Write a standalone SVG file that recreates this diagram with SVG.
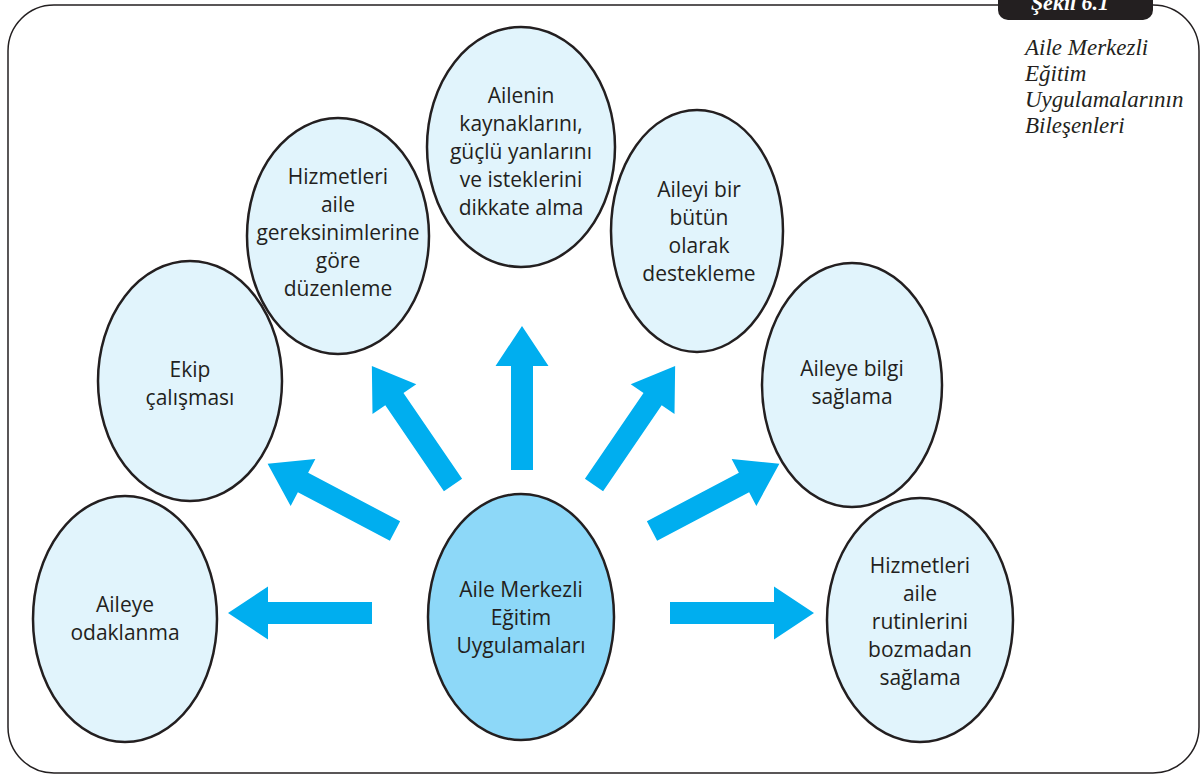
<svg xmlns="http://www.w3.org/2000/svg" width="1203" height="775" viewBox="0 0 1203 775">
  <style>
    .frame { fill: #ffffff; stroke: #231F20; stroke-width: 1.5; }
    .node ellipse { fill: #E1F4FC; stroke: #231F20; stroke-width: 2.5; }
    #center ellipse { fill: #8DD8F8; }
    .node text { font-family: "Open Sans", "Noto Sans", sans-serif; font-size: 21px; fill: #231F20; text-anchor: middle; }
    .arrow { fill: #00AEEF; }
    .caption { font-family: "Liberation Serif", serif; font-style: italic; font-size: 23px; fill: #231F20; }
    .tab-label { font-family: "Liberation Serif", serif; font-style: italic; font-weight: bold; font-size: 22px; fill: #ffffff; text-anchor: middle; }
  </style>
  <defs>
    <!-- block arrow pointing along +x, tail at origin, length 144 -->
    <polygon id="arrow-shape" points="0,-11 104,-11 104,-26.5 144,0 104,26.5 104,11 0,11"/>
  </defs>

  <rect width="1203" height="775" fill="#ffffff"/>

  <!-- page frame with the figure tab -->
  <rect class="frame" x="8" y="5" width="1191" height="768" rx="46" ry="46"/>
  <path d="M998,0 H1153 V10 A10,10 0 0 1 1143,20 H1008 A10,10 0 0 1 998,10 Z" fill="#231F20"/>
  <text class="tab-label" x="1070" y="10">Şekil 6.1</text>

  <g id="caption">
    <text class="caption" x="1025" y="55">Aile Merkezli</text>
    <text class="caption" x="1025" y="81">Eğitim</text>
    <text class="caption" x="1025" y="107">Uygulamalarının</text>
    <text class="caption" x="1025" y="133">Bileşenleri</text>
  </g>

  <g id="connectors">
    <use href="#arrow-shape" class="arrow" transform="translate(372,613) rotate(180)"/>
    <use href="#arrow-shape" class="arrow" transform="translate(395,531) rotate(-152.2)"/>
    <use href="#arrow-shape" class="arrow" transform="translate(453,485) rotate(-124.3)"/>
    <use href="#arrow-shape" class="arrow" transform="translate(522,470) rotate(-90)"/>
    <use href="#arrow-shape" class="arrow" transform="translate(594,485) rotate(-55.7)"/>
    <use href="#arrow-shape" class="arrow" transform="translate(652,531) rotate(-27.8)"/>
    <use href="#arrow-shape" class="arrow" transform="translate(670,613)"/>
  </g>

  <g id="aileye-odaklanma" class="node">
    <ellipse cx="125" cy="619" rx="92" ry="123"/>
    <text x="125" y="612">Aileye</text>
    <text x="125" y="640">odaklanma</text>
  </g>

  <g id="ekip-calismasi" class="node">
    <ellipse cx="190" cy="381" rx="92" ry="120"/>
    <text x="190" y="377">Ekip</text>
    <text x="190" y="405">çalışması</text>
  </g>

  <g id="gereksinimlere-gore" class="node">
    <ellipse cx="338" cy="236" rx="91" ry="118"/>
    <text x="338" y="184">Hizmetleri</text>
    <text x="338" y="212">aile</text>
    <text x="338" y="240">gereksinimlerine</text>
    <text x="338" y="268">göre</text>
    <text x="338" y="296">düzenleme</text>
  </g>

  <g id="kaynaklar" class="node">
    <ellipse cx="521" cy="147" rx="94" ry="120"/>
    <text x="521" y="103">Ailenin</text>
    <text x="521" y="131">kaynaklarını,</text>
    <text x="521" y="159">güçlü yanlarını</text>
    <text x="521" y="187">ve isteklerini</text>
    <text x="521" y="215">dikkate alma</text>
  </g>

  <g id="butun-destek" class="node">
    <ellipse cx="697" cy="231" rx="86" ry="121"/>
    <text x="699" y="197">Aileyi bir</text>
    <text x="699" y="225">bütün</text>
    <text x="699" y="253">olarak</text>
    <text x="699" y="281">destekleme</text>
  </g>

  <g id="bilgi-saglama" class="node">
    <ellipse cx="852" cy="385" rx="90" ry="122"/>
    <text x="852" y="376">Aileye bilgi</text>
    <text x="852" y="404">sağlama</text>
  </g>

  <g id="rutinler" class="node">
    <ellipse cx="920" cy="620" rx="93" ry="122"/>
    <text x="920" y="573">Hizmetleri</text>
    <text x="920" y="601">aile</text>
    <text x="920" y="629">rutinlerini</text>
    <text x="920" y="657">bozmadan</text>
    <text x="920" y="685">sağlama</text>
  </g>

  <g id="center" class="node">
    <ellipse cx="521" cy="617" rx="93" ry="123"/>
    <text x="521" y="597">Aile Merkezli</text>
    <text x="521" y="625">Eğitim</text>
    <text x="521" y="653">Uygulamaları</text>
  </g>
</svg>
